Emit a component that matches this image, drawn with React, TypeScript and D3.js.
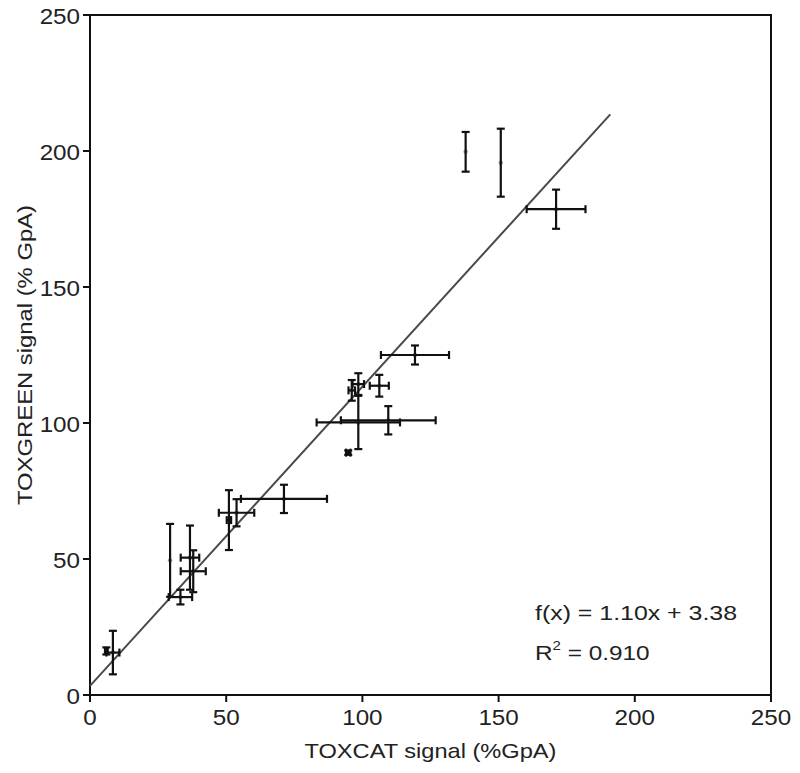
import React from "react";
import * as d3 from "d3";

// TOXCAT (x) vs TOXGREEN (y), both in % GpA
const toxcat = [8.4, 6.0, 29.4, 33.2, 36.7, 37.9, 51.0, 53.8, 71.2, 94.8, 98.5, 109.5, 96.1, 98.5, 106.2, 119.3, 137.9, 150.8, 171.1];
const toxgreen = [15.6, 16.2, 49.5, 36.0, 50.5, 45.5, 64.3, 67.0, 72.1, 89.1, 100.2, 101.0, 112.0, 114.3, 113.7, 125.0, 199.7, 195.7, 178.6];
const toxcatErr = [2.4, 0.5, 0, 4.3, 3.4, 4.6, 0.8, 6.5, 15.8, 0.8, 15.3, 17.4, 1.2, 2.1, 3.5, 12.5, 0, 0, 10.8];
const toxgreenErr = [8.0, 1.3, 13.4, 2.7, 11.8, 7.7, 11.0, 5.0, 5.2, 0.8, 9.8, 5.2, 3.8, 4.0, 4.0, 3.5, 7.3, 12.5, 7.2];

const xTicks = [0, 50, 100, 150, 200, 250];
const yTicks = [0, 50, 100, 150, 200, 250];

const slope = 1.1;
const intercept = 3.38;
const fitRange = [0, 191];

const W = 800;
const H = 773;
const left = 90;
const right = 771;
const top = 15;
const bottom = 695;
const cap = 4;
const font = "'Liberation Sans', Arial, Helvetica, sans-serif";

function Label({ x, y, anchor, children, size = 22, fill = "#222", sx = 1.1 }) {
  return (
    <text
      transform={`translate(${x},${y}) scale(${sx},1)`}
      textAnchor={anchor}
      fontSize={size}
      fontFamily={font}
      fill={fill}
    >
      {children}
    </text>
  );
}

export default function App() {
  const x = d3.scaleLinear().domain([0, 250]).range([left, right]);
  const y = d3.scaleLinear().domain([0, 250]).range([bottom, top]);

  const fitLine = d3
    .line<number>()
    .x(d => x(d))
    .y(d => y(slope * d + intercept));

  const points = toxcat.map((v, i) => ({
    x: v,
    y: toxgreen[i],
    ex: toxcatErr[i],
    ey: toxgreenErr[i]
  }));

  return (
    <svg
      width={W}
      height={H}
      style={{ position: "absolute", left: 0, top: 0, background: "#fff" }}
    >
      <rect x={0} y={0} width={W} height={H} fill="#fff" />

      {/* frame */}
      <rect
        x={left}
        y={top}
        width={right - left}
        height={bottom - top}
        fill="none"
        stroke="#111"
        strokeWidth={2}
      />

      {/* ticks */}
      {yTicks.map(t => (
        <g key={"y" + t}>
          <line x1={left - 7} x2={left} y1={y(t)} y2={y(t)} stroke="#111" strokeWidth={2} />
          <Label x={80} y={y(t) + 8.5} anchor="end">{t}</Label>
        </g>
      ))}
      {xTicks.map(t => (
        <g key={"x" + t}>
          <line x1={x(t)} x2={x(t)} y1={bottom} y2={bottom + 7} stroke="#111" strokeWidth={2} />
          <Label x={x(t)} y={725} anchor="middle">{t}</Label>
        </g>
      ))}

      {/* axis titles */}
      <text
        x={(left + right) / 2}
        y={758}
        textAnchor="middle"
        fontSize={21}
        fontFamily={font}
        fill="#222"
        textLength={252}
        lengthAdjust="spacingAndGlyphs"
      >
        TOXCAT signal (%GpA)
      </text>
      <text
        transform={`translate(32,${(top + bottom) / 2}) rotate(-90)`}
        textAnchor="middle"
        fontSize={21}
        fontFamily={font}
        fill="#222"
        textLength={300}
        lengthAdjust="spacingAndGlyphs"
      >
        TOXGREEN signal (% GpA)
      </text>

      {/* regression line */}
      <path d={fitLine(fitRange) || ""} stroke="#4a4a4a" strokeWidth={2} fill="none" />

      {/* points with error bars */}
      {points.map((p, i) => {
        const cx = x(p.x);
        const cy = y(p.y);
        const x0 = x(p.x - p.ex);
        const x1 = x(p.x + p.ex);
        const y0 = y(p.y - p.ey);
        const y1 = y(p.y + p.ey);
        return (
          <g key={i} stroke="#111" strokeWidth={2.2} fill="none">
            <circle cx={cx} cy={cy} r={2.2} fill="#999" stroke="none" />
            {p.ey > 0 && (
              <>
                <line x1={cx} x2={cx} y1={y0} y2={y1} />
                <line x1={cx - cap} x2={cx + cap} y1={y0} y2={y0} />
                <line x1={cx - cap} x2={cx + cap} y1={y1} y2={y1} />
              </>
            )}
            {p.ex > 0 && (
              <>
                <line x1={x0} x2={x1} y1={cy} y2={cy} />
                <line x1={x0} x2={x0} y1={cy - cap} y2={cy + cap} />
                <line x1={x1} x2={x1} y1={cy - cap} y2={cy + cap} />
              </>
            )}
          </g>
        );
      })}

      {/* fit annotation */}
      <text
        x={535}
        y={620}
        fontSize={21}
        fontFamily={font}
        fill="#222"
        textLength={202}
        lengthAdjust="spacingAndGlyphs"
      >
        f(x) = 1.10x + 3.38
      </text>
      <text
        transform="translate(535,660) scale(1.16,1)"
        fontSize={21}
        fontFamily={font}
        fill="#222"
      >
        <tspan>R</tspan>
        <tspan dy={-10} fontSize={13}>2</tspan>
        <tspan dy={10}> = 0.910</tspan>
      </text>
    </svg>
  );
}
